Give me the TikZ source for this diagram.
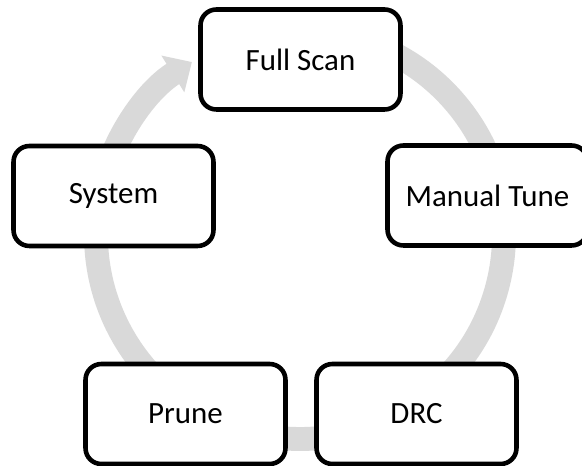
\documentclass[tikz,border=0pt]{standalone}
\usepackage{fontspec}
\setmainfont{Carlito}
\usetikzlibrary{arrows.meta}
\definecolor{ringgray}{RGB}{217,217,217}
\tikzset{
  stage/.style={draw=black, fill=white, line width=2.6pt, rounded corners=9pt,
    minimum width=4cm, minimum height=2cm, inner sep=0pt,
    font=\fontsize{17.6}{20}\selectfont},
}
\begin{document}
\begin{tikzpicture}[x=0.02cm, y=0.02cm]
            \useasboundingbox (0,0) rectangle (582,466);
            % gray ring behind the stages, arrow head at the top left
            \coordinate (ring) at (300,231);
            \draw[ringgray, line width=13.6pt, -{Triangle[width=0.84cm, length=0.45cm]}]
                ([shift={(75:4.08cm)}]ring) arc[start angle=75, end angle=-238, radius=4.08cm];
            % five stages, clockwise from the top
            \node[stage] (fullscan) at (300.5,406.5) {Full Scan};
            \node[stage] (manualtune) at (487.5,270.5) {Manual Tune};
            \node[stage] (drc) at (416.5,52) {DRC};
            \node[stage] (prune) at (185.5,52) {Prune};
            \node[stage] (system) at (113.5,270) {System};
        \end{tikzpicture}
\end{document}
